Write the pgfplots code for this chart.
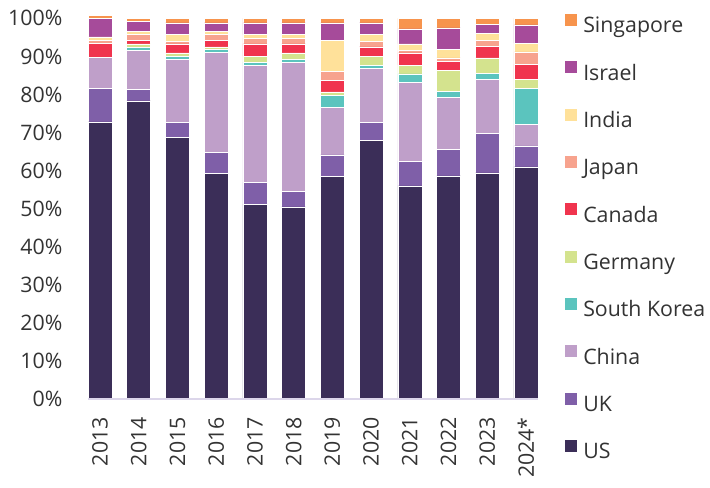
\documentclass[border=0pt]{standalone}
\usepackage{pgfplots}
\pgfplotsset{compat=1.18}
\usepackage{pgfplotstable}
\usepackage{fontspec}
\setmainfont{Open Sans}

\definecolor{cUS}{HTML}{3B2E58}
\definecolor{cUK}{HTML}{7F5FA8}
\definecolor{cChina}{HTML}{BF9FC9}
\definecolor{cKorea}{HTML}{5BC4BE}
\definecolor{cGermany}{HTML}{D4E38E}
\definecolor{cCanada}{HTML}{F0344E}
\definecolor{cJapan}{HTML}{F7A38E}
\definecolor{cIndia}{HTML}{FFE19A}
\definecolor{cIsrael}{HTML}{A64B9A}
\definecolor{cSingapore}{HTML}{F7944D}
\definecolor{axisline}{HTML}{DCD6EA}
\definecolor{txt}{HTML}{333333}

% share by country, 2013 ... 2024*
\pgfplotstableread{
x  US   UK   China SKorea Germany Canada Japan India Israel Singapore
0  72.8 8.7  8.2   0.0    0.0     3.8    0.7   0.9   4.8    0.9
1  78.3 3.0  10.3  0.8    0.9     0.9    1.5   0.9   2.5    0.9
2  68.7 3.9  16.7  0.8    0.8     2.4    0.7   1.7   3.1    1.2
3  59.2 5.5  26.4  0.7    0.7     1.7    1.5   0.9   2.2    1.2
4  51.2 5.7  30.8  0.8    1.6     3.2    1.5   0.9   3.1    1.2
5  50.5 4.0  34.0  0.8    1.6     2.4    1.5   0.9   3.1    1.2
6  58.5 5.6  12.6  3.1    0.9     3.1    2.3   8.1   4.6    1.2
7  68.0 4.6  14.2  0.9    2.4     2.4    1.5   1.7   3.1    1.2
8  56.0 6.4  20.7  2.3    2.3     3.2    0.7   1.7   3.9    2.8
9  58.6 7.0  13.6  1.6    5.6     2.3    0.9   2.3   5.6    2.5
10 59.4 10.3 14.3  1.6    4.0     3.1    1.5   1.8   2.4    1.6
11 61.0 5.5  5.6   9.4    2.5     3.9    3.3   2.3   4.8    1.7
}\shares

\begin{document}
\begin{tikzpicture}
\path[use as bounding box] (-66pt,-66pt) rectangle (466.5pt,299.25pt);
\begin{axis}[
    at={(0,0)}, anchor=south west,
    scale only axis,
    width=337.5pt, height=285.5pt,
    ybar stacked, bar width=18pt,
    xmin=-0.31, xmax=11.31,
    ymin=0, ymax=100,
    clip=false,
    axis on top,
    axis x line*=bottom, axis y line*=left,
    y axis line style={draw=none},
    x axis line style={draw=axisline, line width=1.5pt, -},
    major tick length=0pt,
    xtick={0,...,11},
    xticklabels={2013,2014,2015,2016,2017,2018,2019,2020,2021,2022,2023,2024*},
    ytick={0,10,...,100},
    yticklabel={\pgfmathprintnumber{\tick}\%},
    /pgf/number format/assume math mode=true,
    tick label style={font=\fontsize{16}{19}\selectfont, text=txt},
    yticklabel style={anchor=east, inner sep=0pt, xshift=-19pt},
    xticklabel style={yshift=-13.5pt, rotate=90, anchor=east, inner sep=0pt},
    every axis plot/.append style={draw=white, line width=0.4pt},
    reverse legend,
    legend cell align=left,
    legend image code/.code={\fill[#1, draw=none] (0pt,1.2pt) rectangle (9pt,10.2pt);},
    legend style={at={(1.06,1.0123)}, anchor=north west, draw=none, fill=none,
        inner sep=0pt, row sep=17.3pt,
        nodes={inner sep=0pt, text height=12pt, text depth=4pt,
            font=\fontsize{16}{19}\selectfont, text=txt},
        /tikz/every odd column/.append style={column sep=4.5pt}},
]
\addplot[fill=cUS] table[x=x, y=US] {\shares};
\addlegendentry{US}
\addplot[fill=cUK] table[x=x, y=UK] {\shares};
\addlegendentry{UK}
\addplot[fill=cChina] table[x=x, y=China] {\shares};
\addlegendentry{China}
\addplot[fill=cKorea] table[x=x, y=SKorea] {\shares};
\addlegendentry{South Korea}
\addplot[fill=cGermany] table[x=x, y=Germany] {\shares};
\addlegendentry{Germany}
\addplot[fill=cCanada] table[x=x, y=Canada] {\shares};
\addlegendentry{Canada}
\addplot[fill=cJapan] table[x=x, y=Japan] {\shares};
\addlegendentry{Japan}
\addplot[fill=cIndia] table[x=x, y=India] {\shares};
\addlegendentry{India}
\addplot[fill=cIsrael] table[x=x, y=Israel] {\shares};
\addlegendentry{Israel}
\addplot[fill=cSingapore] table[x=x, y=Singapore] {\shares};
\addlegendentry{Singapore}
\end{axis}
\end{tikzpicture}
\end{document}
